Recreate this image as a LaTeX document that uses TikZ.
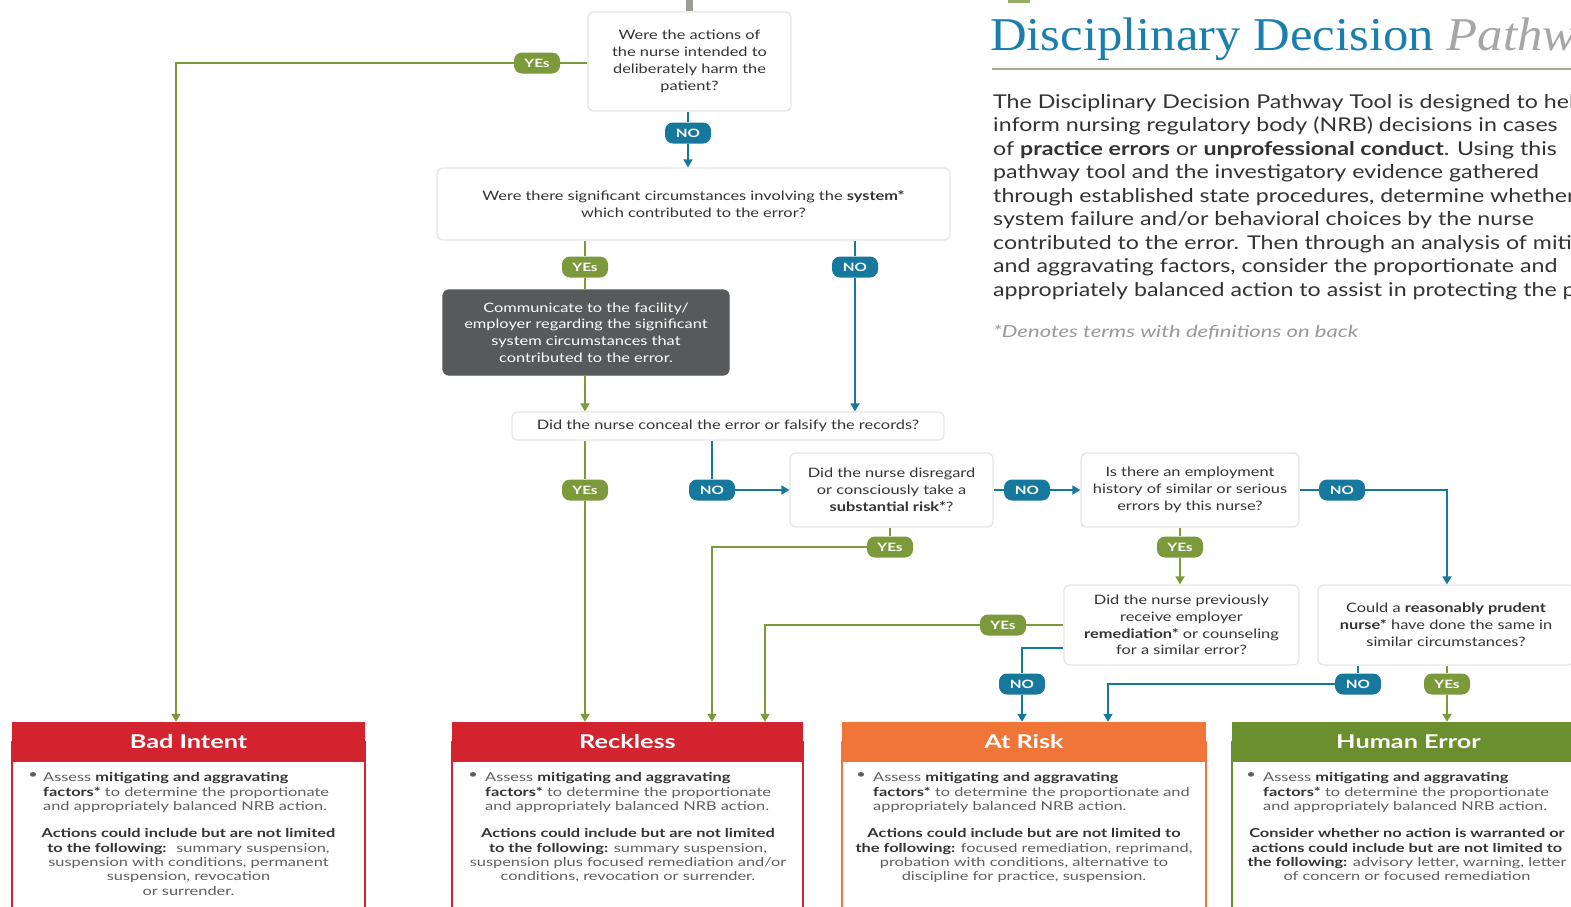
\documentclass[tikz,border=0pt]{standalone}
\usepackage{fontspec}
\setmainfont{Lato}[FakeStretch=1.26]
\newfontfamily\parafont{Lato}[FakeStretch=1.22]
\newfontfamily\widefont{Lato}[FakeStretch=1.33]
\newfontfamily\titlefont{Liberation Serif}[FakeStretch=1.08]
\usetikzlibrary{arrows.meta}
\definecolor{tgreen}{HTML}{7C9A3C}
\definecolor{tteal}{HTML}{17789E}
\definecolor{tgray}{HTML}{58595B}
\definecolor{tred}{HTML}{D2232E}
\definecolor{torange}{HTML}{F07538}
\definecolor{thgreen}{HTML}{6B8E2F}
\definecolor{ttitle}{HTML}{1B7FAE}
\definecolor{ttext}{HTML}{333333}
\definecolor{tbody}{HTML}{5E5E5E}
\definecolor{trule}{HTML}{A9AC8E}
\definecolor{ttop}{HTML}{9A9E95}
\begin{document}
\begin{tikzpicture}[x=1pt,y=-1pt,
  qbox/.style={draw=black!10, line width=1.3pt, fill=white, rounded corners=6pt, align=center,
    font=\fontsize{13}{16.8}\selectfont, text=ttext, inner sep=0pt},
  gbox/.style={qbox, draw=tgray, fill=tgray, text=white},
  badge/.style={rounded corners=8pt, minimum width=46pt, minimum height=21pt, inner sep=0pt,
    font=\widefont\fontsize{11.5}{11.5}\selectfont\bfseries, text=white},
  yes/.style={badge, fill=tgreen},
  no/.style={badge, fill=tteal},
  gl/.style={draw=tgreen, line width=1.7pt},
  tl/.style={draw=tteal, line width=1.7pt},
  arr/.style={-{Triangle[width=9pt,length=8pt]}},
  hdr/.style={minimum height=40pt, inner sep=0pt, text=white, font=\widefont\fontsize{19}{19}\selectfont\bfseries},
  btxt/.style={inner sep=0pt, text=tbody, font=\widefont\fontsize{12.3}{14.3}\selectfont},
  para/.style={anchor=base west, inner sep=0pt, text=ttext, font=\parafont\fontsize{19}{19}\selectfont}
]
\useasboundingbox (0,0) rectangle (1571,906);
\clip (0,0) rectangle (1571,906);
\fill[white] (0,0) rectangle (1571,906);

% small logo remnant at top
\fill[tgreen!80] (1008,-6) rectangle (1030,3);

% title block
\node[anchor=base west, inner sep=0pt, text=ttitle, font=\titlefont\fontsize{47}{47}\selectfont] (title) at (990,50)
  {Disciplinary Decision \textcolor{black!35}{\itshape Pathway}};
\draw[trule, line width=2pt] (992,69) -- (1571,69);
\node[para] (p1) at (993,108) {The Disciplinary Decision Pathway Tool is designed to help};
\node[para] (p2) at (993,131.5) {inform nursing regulatory body (NRB) decisions in cases};
\node[para] (p3) at (993,155) {of \textbf{practice errors} or \textbf{unprofessional conduct}. Using this};
\node[para] (p4) at (993,178.5) {pathway tool and the investigatory evidence gathered};
\node[para] (p5) at (993,202) {through established state procedures, determine whether};
\node[para] (p6) at (993,225.5) {system failure and/or behavioral choices by the nurse};
\node[para] (p7) at (993,249) {contributed to the error. Then through an analysis of mitigating};
\node[para] (p8) at (993,272.5) {and aggravating factors, consider the proportionate and};
\node[para] (p9) at (993,296) {appropriately balanced action to assist in protecting the public.};
\node[anchor=base west, inner sep=0pt, text=black!40, font=\widefont\fontsize{16.6}{16.6}\selectfont\itshape] (note) at (993,337)
  {*Denotes terms with definitions on back};

% question boxes
\node[qbox, minimum width=203, minimum height=99] (b1) at (689.5,61.5)
  {Were the actions of\\the nurse intended to\\deliberately harm the\\patient?};
\node[qbox, minimum width=513, minimum height=72] (b2) at (693.5,204)
  {Were there significant circumstances involving the \textbf{system*}\\which contributed to the error?};
\node[gbox, minimum width=286, minimum height=85] (b3) at (586,332.5)
  {Communicate to the facility/\\employer regarding the significant\\system circumstances that\\contributed to the error.};
\node[qbox, minimum width=432, minimum height=28] (b4) at (728,426)
  {Did the nurse conceal the error or falsify the records?};
\node[qbox, minimum width=203, minimum height=74] (b5) at (891.5,490)
  {Did the nurse disregard\\or consciously take a\\\textbf{substantial risk*}?};
\node[qbox, minimum width=218, minimum height=74] (b6) at (1190,490)
  {Is there an employment\\history of similar or serious\\errors by this nurse?};
\node[qbox, minimum width=235, minimum height=80] (b7) at (1181.5,625)
  {Did the nurse previously\\receive employer\\\textbf{remediation*} or counseling\\for a similar error?};
\node[qbox, minimum width=256, minimum height=80] (b8) at (1446,625)
  {Could a \textbf{reasonably prudent}\\\textbf{nurse*} have done the same in\\similar circumstances?};

% outcome boxes
\draw[tred, line width=1.6pt, fill=white] (12,742) rectangle (365,915);
\node[hdr, fill=tred, minimum width=353] (bad) at (188.5,742) {Bad Intent};
\draw[tred, line width=1.6pt, fill=white] (452,742) rectangle (803,915);
\node[hdr, fill=tred, minimum width=351] (reck) at (627.5,742) {Reckless};
\draw[torange, line width=1.6pt, fill=white] (842,742) rectangle (1206,915);
\node[hdr, fill=torange, minimum width=364] (risk) at (1024,742) {At Risk};
\draw[thgreen, line width=1.6pt, fill=white] (1232,742) rectangle (1585,915);
\node[hdr, fill=thgreen, minimum width=353] (human) at (1408.5,742) {Human Error};

% outcome texts
\node[btxt, anchor=north east] (bb1) at (38,772.5) {•};
\node[btxt, anchor=north west, align=left] (bt1) at (43,772.5)
  {Assess \textbf{\color{ttext}mitigating and aggravating}\\\textbf{\color{ttext}factors*} to determine the proportionate\\and appropriately balanced NRB action.};
\node[btxt, anchor=north, align=center] (ba1) at (188.5,828.5)
  {\textbf{\color{ttext}Actions could include but are not limited}\\\textbf{\color{ttext}to the following:} \ summary suspension,\\suspension with conditions, permanent\\suspension, revocation\\or surrender.};

\node[btxt, anchor=north east] (bb2) at (478,772.5) {•};
\node[btxt, anchor=north west, align=left] (bt2) at (485,772.5)
  {Assess \textbf{\color{ttext}mitigating and aggravating}\\\textbf{\color{ttext}factors*} to determine the proportionate\\and appropriately balanced NRB action.};
\node[btxt, anchor=north, align=center] (ba2) at (628,828.5)
  {\textbf{\color{ttext}Actions could include but are not limited}\\\textbf{\color{ttext}to the following:} summary suspension,\\suspension plus focused remediation and/or\\conditions, revocation or surrender.};

\node[btxt, anchor=north east] (bb3) at (866,772.5) {•};
\node[btxt, anchor=north west, align=left] (bt3) at (873,772.5)
  {Assess \textbf{\color{ttext}mitigating and aggravating}\\\textbf{\color{ttext}factors*} to determine the proportionate and\\appropriately balanced NRB action.};
\node[btxt, anchor=north, align=center] (ba3) at (1024,828.5)
  {\textbf{\color{ttext}Actions could include but are not limited to}\\\textbf{\color{ttext}the following:} focused remediation, reprimand,\\probation with conditions, alternative to\\discipline for practice, suspension.};

\node[btxt, anchor=north east] (bb4) at (1256,772.5) {•};
\node[btxt, anchor=north west, align=left] (bt4) at (1263,772.5)
  {Assess \textbf{\color{ttext}mitigating and aggravating}\\\textbf{\color{ttext}factors*} to determine the proportionate\\and appropriately balanced NRB action.};
\node[btxt, anchor=north, align=center] (ba4) at (1407,828.5)
  {\textbf{\color{ttext}Consider whether no action is warranted or}\\\textbf{\color{ttext}actions could include but are not limited to}\\\textbf{\color{ttext}the following:} advisory letter, warning, letter\\of concern or focused remediation};

% badges
\node[yes] (y1) at (537,63) {YEs};
\node[no]  (n1) at (688,133) {NO};
\node[yes] (y2) at (585,267) {YEs};
\node[no]  (n2) at (855,267) {NO};
\node[yes] (y3) at (585,490) {YEs};
\node[no]  (n3) at (712,490) {NO};
\node[no]  (n4) at (1027,490) {NO};
\node[yes] (y4) at (890,547) {YEs};
\node[no]  (n5) at (1342,490) {NO};
\node[yes] (y5) at (1180,547) {YEs};
\node[yes] (y6) at (1003,625) {YEs};
\node[no]  (n6) at (1022,684) {NO};
\node[no]  (n7) at (1358,684) {NO};
\node[yes] (y7) at (1447,684) {YEs};

% bend points
\coordinate (top) at (689.5,-4);
\coordinate (c1) at (176,63);
\coordinate (c9) at (712,547);
\coordinate (c10) at (1447,490);
\coordinate (c12) at (765,625);
\coordinate (c13) at (1022,648);
\coordinate (c14) at (1108,684);

% connectors
\draw[draw=ttop, line width=7pt] (top) -- (b1.north);
\draw[gl] (b1.west |- y1) -- (y1);
\draw[gl, arr] (y1) -- (c1) -- (c1 |- bad.north);
\draw[tl] (b1.south -| n1) -- (n1);
\draw[tl, arr] (n1) -- (n1 |- b2.north);
\draw[gl] (b2.south -| y2) -- (y2);
\draw[gl] (y2) -- (y2 |- b3.north);
\draw[tl] (b2.south -| n2) -- (n2);
\draw[tl, arr] (n2) -- (n2 |- b4.north);
\draw[gl, arr] (b3.south -| y2) -- (b4.north -| y2);
\draw[gl] (b4.south -| y3) -- (y3);
\draw[gl, arr] (y3) -- (y3 |- reck.north);
\draw[tl] (b4.south -| n3) -- (n3);
\draw[tl, arr] (n3) -- (b5.west |- n3);
\draw[tl] (b5.east |- n4) -- (n4);
\draw[tl, arr] (n4) -- (b6.west |- n4);
\draw[gl] (b5.south -| y4) -- (y4);
\draw[gl, arr] (y4) -- (c9) -- (c9 |- reck.north);
\draw[tl] (b6.east |- n5) -- (n5);
\draw[tl, arr] (n5) -- (c10) -- (c10 |- b8.north);
\draw[gl] (b6.south -| y5) -- (y5);
\draw[gl, arr] (y5) -- (y5 |- b7.north);
\draw[gl] (b7.west |- y6) -- (y6);
\draw[gl, arr] (y6) -- (c12) -- (c12 |- reck.north);
\draw[tl] (b7.west |- c13) -- (c13) -- (n6);
\draw[tl, arr] (n6) -- (n6 |- risk.north);
\draw[tl] (b8.south -| n7) -- (n7);
\draw[tl, arr] (n7) -- (c14) -- (c14 |- risk.north);
\draw[gl] (b8.south -| y7) -- (y7);
\draw[gl, arr] (y7) -- (y7 |- human.north);
\end{tikzpicture}
\end{document}
